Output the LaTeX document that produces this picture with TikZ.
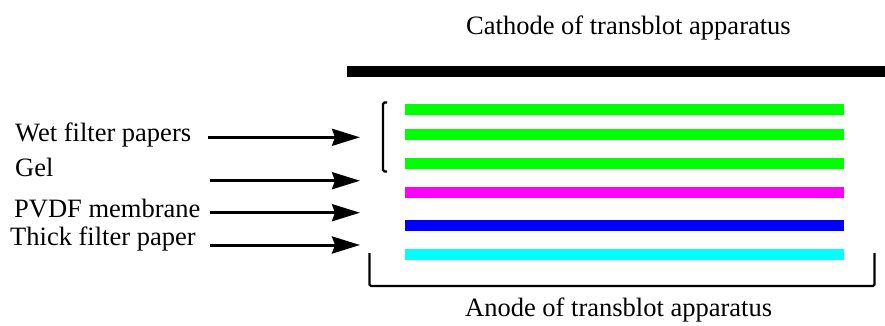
\documentclass[tikz,border=0pt]{standalone}
\usepackage{fontspec}
\setmainfont{Liberation Serif}
\newfontfamily\tmsfont{Liberation Serif}
\usetikzlibrary{arrows.meta}
\definecolor{pgreen}{RGB}{0,255,0}
\definecolor{pmag}{RGB}{255,0,255}
\definecolor{pblue}{RGB}{0,0,255}
\definecolor{pcyan}{RGB}{0,255,255}
\begin{document}
\begin{tikzpicture}[x=1pt,y=-1pt,
  lbl/.style={anchor=base west,inner sep=0pt,font=\tmsfont\fontsize{26.5}{30}\selectfont},
  layer/.style={line width=11pt},
  pointer/.style={line width=3pt,-{Stealth[length=28pt,width=17pt,inset=3pt]}},
  brack/.style={line width=2.2pt,rounded corners=1.5pt}]
\useasboundingbox (0,0) rectangle (885,325);
% electrodes text
\node[lbl] (cath) at (466,34) {Cathode of transblot apparatus};
\node[lbl] (anod) at (465,316) {Anode of transblot apparatus};
% cathode plate
\fill (347,66) rectangle (885,77);
% layers
\draw[layer,pgreen] (405,109.4) -- (844,109.4);
\draw[layer,pgreen] (405,134.4) -- (844,134.4);
\draw[layer,pgreen] (405,163.6) -- (844,163.6);
\draw[layer,pmag] (405,192.8) -- (844,192.8);
\draw[layer,pblue] (405,225.1) -- (844,225.1);
\draw[layer,pcyan] (405,254.3) -- (844,254.3);
% brackets
\draw[brack] (387,102.5) -- (383,102.5) -- (383,171.5) -- (387,171.5);
\draw[brack] (369.5,253) -- (369.5,286) -- (874.5,286) -- (874.5,253);
% labels
\node[lbl] (wet) at (15,141.5) {Wet filter papers};
\node[lbl] (gel) at (15,176) {Gel};
\node[lbl] (pvdf) at (14,217.5) {PVDF membrane};
\node[lbl] (thick) at (10,245) {Thick filter paper};
% arrow ends
\coordinate (wetS) at (208,137.3);
\coordinate (wetE) at (360,137.3);
\coordinate (gelS) at (210,180.7);
\coordinate (gelE) at (360,180.7);
\coordinate (pvdfS) at (210,212.7);
\coordinate (pvdfE) at (360,212.7);
\coordinate (thickS) at (210,245);
\coordinate (thickE) at (360,245);
\draw[pointer] (wetS) -- (wetE);
\draw[pointer] (gelS) -- (gelE);
\draw[pointer] (pvdfS) -- (pvdfE);
\draw[pointer] (thickS) -- (thickE);
\end{tikzpicture}
\end{document}
